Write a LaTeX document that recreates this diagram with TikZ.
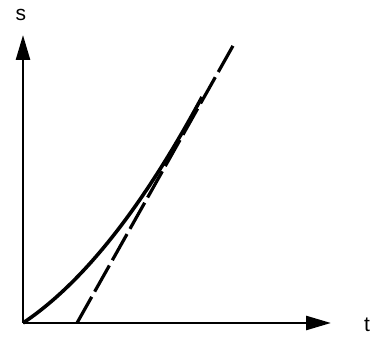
\documentclass[tikz,border=0pt]{standalone}
\usepackage{fontspec}
\setmainfont{Liberation Sans}
\usetikzlibrary{arrows.meta}
\begin{document}
\begin{tikzpicture}[x=1pt,y=-1pt,
  axis/.style={line width=2.6pt,-{Triangle[length=25pt,width=14pt]}},
  curve/.style={line width=3.6pt},
  tangent/.style={line width=3.2pt,dash pattern=on 30pt off 6pt},
  lbl/.style={font=\fontsize{21}{24}\selectfont,inner sep=0pt}]
\useasboundingbox (0,0) rectangle (376,337);
\coordinate (O) at (23,323);
\coordinate (ytip) at (23,35);
\coordinate (xtip) at (331,323);
\coordinate (tA) at (77,323);
\coordinate (tB) at (234,44);
\draw[axis] (O) -- (ytip);
\draw[axis] (O) -- (xtip);
\draw[curve] plot[domain=0:179,samples=60,smooth] ({23+\x},{323-(0.667*\x+0.00333*\x*\x)});
\draw[tangent] (tA) -- (tB);
\node[lbl] (s) at (21,15) {s};
\node[lbl] (t) at (367,325) {t};
\end{tikzpicture}
\end{document}
